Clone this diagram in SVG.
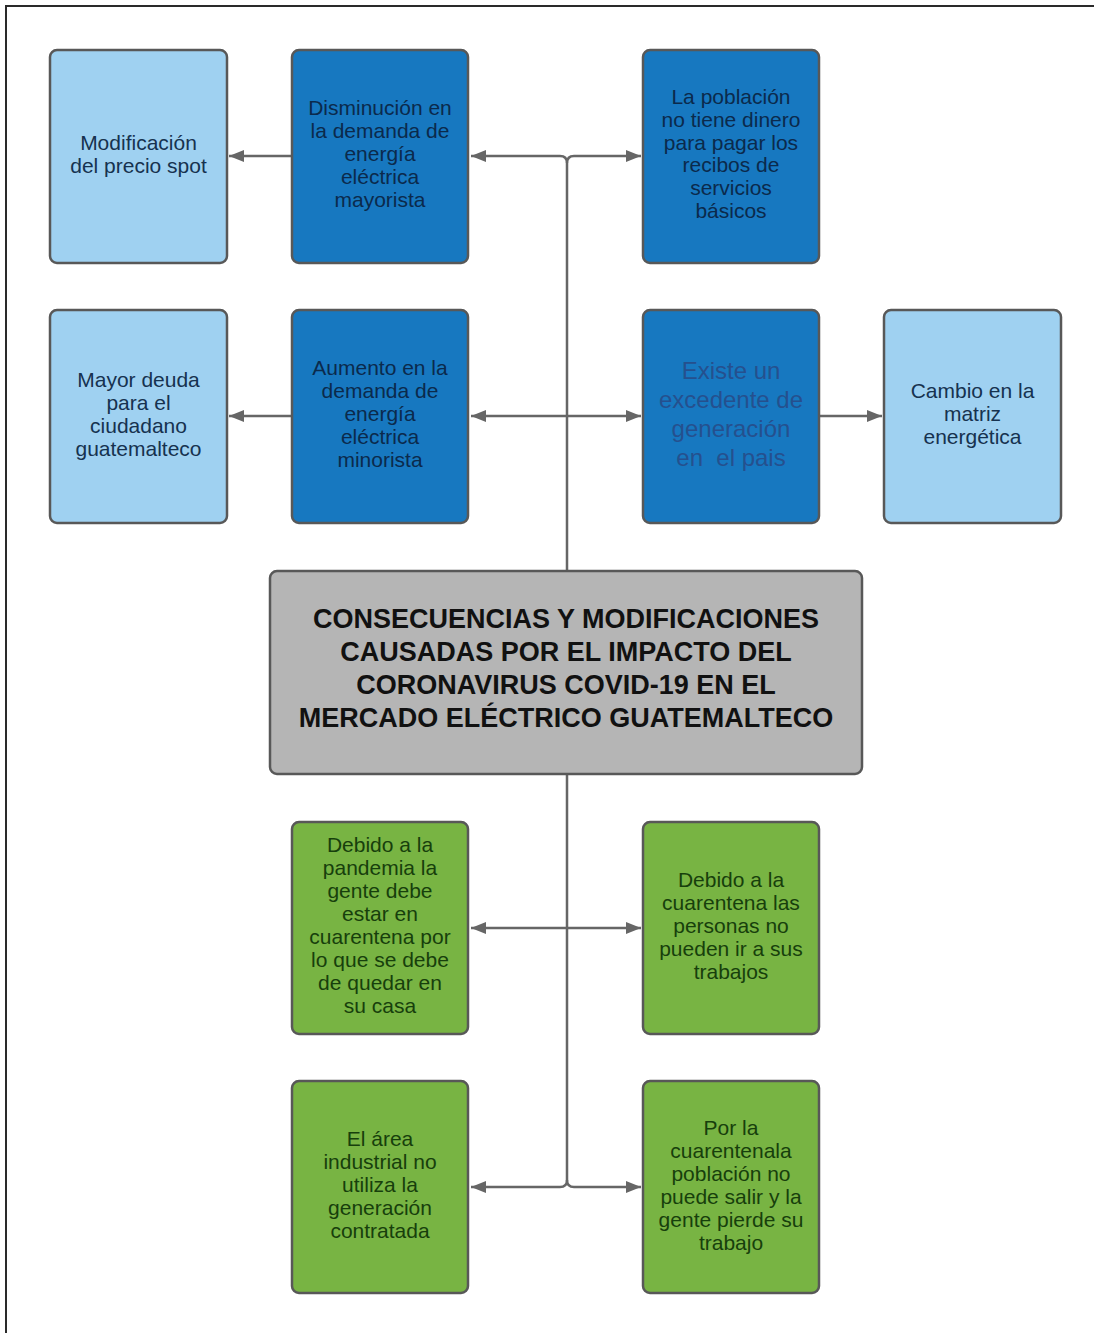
<svg xmlns="http://www.w3.org/2000/svg" width="1094" height="1333" viewBox="0 0 1094 1333">
<style>
.node{stroke:#585858;stroke-width:2.5}
.lb{fill:#9fd1f1}
.db{fill:#1778c0}
.gr{fill:#78b443}
.gy{fill:#b5b5b5}
text{font-family:"Liberation Sans",Arial,sans-serif;font-size:21px;text-anchor:middle}
.tl{fill:#16324f}
.td{fill:#0b2a4c}
.te{fill:#25508e;font-size:24px}
.tg{fill:#173f0c}
.tc{fill:#111;font-size:27px;font-weight:bold}
.con{fill:none;stroke:#666;stroke-width:2.5}
</style>
<defs>
<marker id="ah" markerUnits="userSpaceOnUse" markerWidth="16" markerHeight="14" refX="15" refY="6" orient="auto">
<path d="M0,0 L15,6 L0,12 z" fill="#666"/>
</marker>
</defs>
<rect width="1094" height="1333" fill="#fff"/>
<path d="M6,1333 V6 H1094" fill="none" stroke="#2a2a2a" stroke-width="2"/>
<g id="connectors">
<path class="con" d="M567,570 V163 Q567,156 560,156 H471" marker-end="url(#ah)"/>
<path class="con" d="M567,163 Q567,156 574,156 H641" marker-end="url(#ah)"/>
<path class="con" d="M567,416 H471" marker-end="url(#ah)"/>
<path class="con" d="M567,416 H641" marker-end="url(#ah)"/>
<path class="con" d="M292,156 H229" marker-end="url(#ah)"/>
<path class="con" d="M292,416 H229" marker-end="url(#ah)"/>
<path class="con" d="M819,416 H882" marker-end="url(#ah)"/>
<path class="con" d="M567,774 V1180 Q567,1187 560,1187 H471" marker-end="url(#ah)"/>
<path class="con" d="M567,1180 Q567,1187 574,1187 H641" marker-end="url(#ah)"/>
<path class="con" d="M567,928 H471" marker-end="url(#ah)"/>
<path class="con" d="M567,928 H641" marker-end="url(#ah)"/>
</g>
<g id="n-modificacion">
<rect class="node lb" x="50" y="50" width="177" height="213" rx="7"/>
<text class="tl" x="138.5"><tspan x="138.5" y="150">Modificación</tspan><tspan x="138.5" y="173">del precio spot</tspan></text>
</g>
<g id="n-disminucion">
<rect class="node db" x="292" y="50" width="176" height="213" rx="7"/>
<text class="td"><tspan x="380" y="115">Disminución en</tspan><tspan x="380" y="138">la demanda de</tspan><tspan x="380" y="161">energía</tspan><tspan x="380" y="184">eléctrica</tspan><tspan x="380" y="207">mayorista</tspan></text>
</g>
<g id="n-poblacion">
<rect class="node db" x="643" y="50" width="176" height="213" rx="7"/>
<text class="td"><tspan x="731" y="104">La población</tspan><tspan x="731" y="127">no tiene dinero</tspan><tspan x="731" y="150">para pagar los</tspan><tspan x="731" y="172">recibos de</tspan><tspan x="731" y="195">servicios</tspan><tspan x="731" y="218">básicos</tspan></text>
</g>
<g id="n-mayor-deuda">
<rect class="node lb" x="50" y="310" width="177" height="213" rx="7"/>
<text class="tl"><tspan x="138.5" y="387">Mayor deuda</tspan><tspan x="138.5" y="410">para el</tspan><tspan x="138.5" y="433">ciudadano</tspan><tspan x="138.5" y="456">guatemalteco</tspan></text>
</g>
<g id="n-aumento">
<rect class="node db" x="292" y="310" width="176" height="213" rx="7"/>
<text class="td"><tspan x="380" y="375">Aumento en la</tspan><tspan x="380" y="398">demanda de</tspan><tspan x="380" y="421">energía</tspan><tspan x="380" y="444">eléctrica</tspan><tspan x="380" y="467">minorista</tspan></text>
</g>
<g id="n-existe">
<rect class="node db" x="643" y="310" width="176" height="213" rx="7"/>
<text class="te" xml:space="preserve"><tspan x="731" y="379">Existe un</tspan><tspan x="731" y="408">excedente de</tspan><tspan x="731" y="437">generación</tspan><tspan x="731" y="466">en  el pais</tspan></text>
</g>
<g id="n-cambio">
<rect class="node lb" x="884" y="310" width="177" height="213" rx="7"/>
<text class="tl"><tspan x="972.5" y="398">Cambio en la</tspan><tspan x="972.5" y="421">matriz</tspan><tspan x="972.5" y="444">energética</tspan></text>
</g>
<g id="n-central">
<rect class="node gy" x="270" y="571" width="592" height="203" rx="7"/>
<text class="tc"><tspan x="566" y="628">CONSECUENCIAS Y MODIFICACIONES</tspan><tspan x="566" y="661">CAUSADAS POR EL IMPACTO DEL</tspan><tspan x="566" y="694">CORONAVIRUS COVID-19 EN EL</tspan><tspan x="566" y="727">MERCADO ELÉCTRICO GUATEMALTECO</tspan></text>
</g>
<g id="n-pandemia">
<rect class="node gr" x="292" y="822" width="176" height="212" rx="7"/>
<text class="tg"><tspan x="380" y="852">Debido a la</tspan><tspan x="380" y="875">pandemia la</tspan><tspan x="380" y="898">gente debe</tspan><tspan x="380" y="921">estar en</tspan><tspan x="380" y="944">cuarentena por</tspan><tspan x="380" y="967">lo que se debe</tspan><tspan x="380" y="990">de quedar en</tspan><tspan x="380" y="1013">su casa</tspan></text>
</g>
<g id="n-trabajos">
<rect class="node gr" x="643" y="822" width="176" height="212" rx="7"/>
<text class="tg"><tspan x="731" y="887">Debido a la</tspan><tspan x="731" y="910">cuarentena las</tspan><tspan x="731" y="933">personas no</tspan><tspan x="731" y="956">pueden ir a sus</tspan><tspan x="731" y="979">trabajos</tspan></text>
</g>
<g id="n-industrial">
<rect class="node gr" x="292" y="1081" width="176" height="212" rx="7"/>
<text class="tg"><tspan x="380" y="1146">El área</tspan><tspan x="380" y="1169">industrial no</tspan><tspan x="380" y="1192">utiliza la</tspan><tspan x="380" y="1215">generación</tspan><tspan x="380" y="1238">contratada</tspan></text>
</g>
<g id="n-pierde">
<rect class="node gr" x="643" y="1081" width="176" height="212" rx="7"/>
<text class="tg"><tspan x="731" y="1135">Por la</tspan><tspan x="731" y="1158">cuarentenala</tspan><tspan x="731" y="1181">población no</tspan><tspan x="731" y="1204">puede salir y la</tspan><tspan x="731" y="1227">gente pierde su</tspan><tspan x="731" y="1250">trabajo</tspan></text>
</g>
</svg>
